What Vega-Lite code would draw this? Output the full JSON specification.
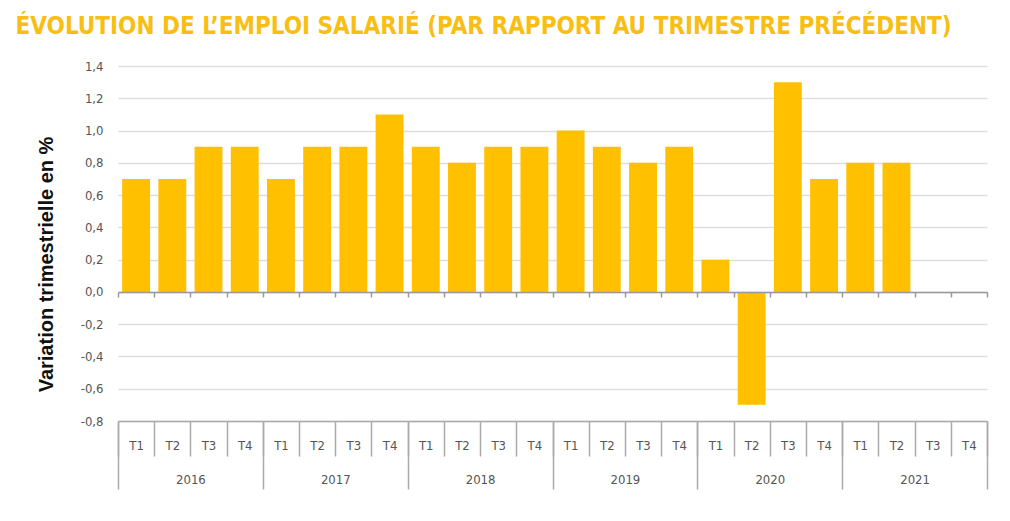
{
  "$schema": "https://vega.github.io/schema/vega-lite/v6.json",
  "width": 869,
  "height": 355,
  "autosize": {"type": "none"},
  "padding": {"left": 118, "top": 66, "right": 23, "bottom": 100},
  "background": "white",
  "data": {
    "values": [
      {"periode": "2016 T1", "annee": "2016", "valeur": 0.7},
      {"periode": "2016 T2", "annee": "2016", "valeur": 0.7},
      {"periode": "2016 T3", "annee": "2016", "valeur": 0.9},
      {"periode": "2016 T4", "annee": "2016", "valeur": 0.9},
      {"periode": "2017 T1", "annee": "2017", "valeur": 0.7},
      {"periode": "2017 T2", "annee": "2017", "valeur": 0.9},
      {"periode": "2017 T3", "annee": "2017", "valeur": 0.9},
      {"periode": "2017 T4", "annee": "2017", "valeur": 1.1},
      {"periode": "2018 T1", "annee": "2018", "valeur": 0.9},
      {"periode": "2018 T2", "annee": "2018", "valeur": 0.8},
      {"periode": "2018 T3", "annee": "2018", "valeur": 0.9},
      {"periode": "2018 T4", "annee": "2018", "valeur": 0.9},
      {"periode": "2019 T1", "annee": "2019", "valeur": 1.0},
      {"periode": "2019 T2", "annee": "2019", "valeur": 0.9},
      {"periode": "2019 T3", "annee": "2019", "valeur": 0.8},
      {"periode": "2019 T4", "annee": "2019", "valeur": 0.9},
      {"periode": "2020 T1", "annee": "2020", "valeur": 0.2},
      {"periode": "2020 T2", "annee": "2020", "valeur": -0.7},
      {"periode": "2020 T3", "annee": "2020", "valeur": 1.3},
      {"periode": "2020 T4", "annee": "2020", "valeur": 0.7},
      {"periode": "2021 T1", "annee": "2021", "valeur": 0.8},
      {"periode": "2021 T2", "annee": "2021", "valeur": 0.8},
      {"periode": "2021 T3", "annee": "2021", "valeur": null},
      {"periode": "2021 T4", "annee": "2021", "valeur": null}
    ]
  },
  "encoding": {
    "y": {
      "field": "valeur",
      "type": "quantitative",
      "scale": {"domain": [-0.8, 1.4], "nice": false, "zero": false},
      "axis": {
        "title": "Variation trimestrielle en %",
        "titleFont": "Liberation Sans, sans-serif",
        "titleFontSize": 20,
        "titleFontWeight": "bold",
        "titleColor": "#111111",
        "titlePadding": 24,
        "titleY": 198,
        "values": [-0.8, -0.6, -0.4, -0.2, 0, 0.2, 0.4, 0.6, 0.8, 1.0, 1.2, 1.4],
        "labelOverlap": false,
        "labelExpr": "replace(replace(format(datum.value, '.1f'), '.', ','), '−', '-')",
        "domain": false,
        "ticks": false,
        "labelPadding": 15,
        "labelColor": "#555555",
        "labelFont": "Liberation Sans Narrow, DejaVu Sans Condensed, sans-serif",
        "labelFontSize": 13,
        "gridColor": "#dddddd",
        "gridWidth": 1.5
      }
    }
  },
  "layer": [
    {
      "mark": {"type": "bar", "color": "#FFC000", "width": {"band": 0.77}},
      "encoding": {
        "x": {
          "field": "periode",
          "type": "ordinal",
          "sort": null,
          "scale": {"paddingInner": 0, "paddingOuter": 0, "domain": ["2016 T1","2016 T2","2016 T3","2016 T4","2017 T1","2017 T2","2017 T3","2017 T4","2018 T1","2018 T2","2018 T3","2018 T4","2019 T1","2019 T2","2019 T3","2019 T4","2020 T1","2020 T2","2020 T3","2020 T4","2021 T1","2021 T2","2021 T3","2021 T4"]},
          "axis": {
            "orient": "bottom",
            "title": null,
            "tickBand": "extent",
            "tickSize": 35,
            "tickColor": "#aaaaaa",
            "tickWidth": 1.5,
            "domainColor": "#aaaaaa",
            "domainWidth": 1.5,
            "labelAngle": 0,
            "labelBaseline": "middle",
            "labelPadding": -11,
            "labelExpr": "split(datum.label, ' ')[1]",
            "labelColor": "#555555",
            "labelFont": "Liberation Sans Narrow, DejaVu Sans Condensed, sans-serif",
            "labelFontSize": 13
          }
        }
      }
    },
    {
      "mark": {"type": "bar", "opacity": 0},
      "encoding": {
        "x": {
          "field": "periode",
          "type": "ordinal",
          "sort": null,
          "scale": {"paddingInner": 0, "paddingOuter": 0, "domain": ["2016 T1","2016 T2","2016 T3","2016 T4","2017 T1","2017 T2","2017 T3","2017 T4","2018 T1","2018 T2","2018 T3","2018 T4","2019 T1","2019 T2","2019 T3","2019 T4","2020 T1","2020 T2","2020 T3","2020 T4","2021 T1","2021 T2","2021 T3","2021 T4"]},
          "axis": {
            "orient": "bottom",
            "offset": -129,
            "title": null,
            "labels": false,
            "tickBand": "extent",
            "tickSize": 5,
            "tickColor": "#999999",
            "tickWidth": 1.5,
            "domainColor": "#999999",
            "domainWidth": 1.5,
            "zindex": 1
          }
        }
      }
    },
    {
      "mark": {"type": "bar", "opacity": 0},
      "encoding": {
        "x": {
          "field": "annee",
          "type": "ordinal",
          "scale": {"paddingInner": 0, "paddingOuter": 0, "domain": ["2016","2017","2018","2019","2020","2021"]},
          "axis": {
            "orient": "bottom",
            "title": null,
            "tickBand": "extent",
            "tickSize": 68,
            "tickColor": "#aaaaaa",
            "tickWidth": 1.5,
            "domain": false,
            "labelAngle": 0,
            "labelBaseline": "middle",
            "labelPadding": -10,
            "labelColor": "#555555",
            "labelFont": "Liberation Sans Narrow, DejaVu Sans Condensed, sans-serif",
            "labelFontSize": 13
          }
        }
      }
    },
    {
      "mark": {"type": "bar", "opacity": 0},
      "encoding": {
        "x": {
          "field": "annee",
          "type": "ordinal",
          "scale": {"paddingInner": 0, "paddingOuter": 0},
          "axis": {
            "orient": "top",
            "title": "ÉVOLUTION DE L’EMPLOI SALARIÉ (PAR RAPPORT AU TRIMESTRE PRÉCÉDENT)",
            "titleX": -103,
            "titleY": -33,
            "titleAlign": "left",
            "titleAnchor": "start",
            "titleBaseline": "alphabetic",
            "titleAngle": 0,
            "titleLimit": 2000,
            "titleColor": "#F8BE14",
            "titleFont": "Liberation Sans Narrow, DejaVu Sans Condensed, sans-serif",
            "titleFontSize": 24,
            "titleFontWeight": "bold",
            "domain": false,
            "ticks": false,
            "labels": false,
            "grid": false
          }
        }
      }
    }
  ],
  "resolve": {"scale": {"x": "independent"}},
  "config": {"view": {"stroke": null}}
}
